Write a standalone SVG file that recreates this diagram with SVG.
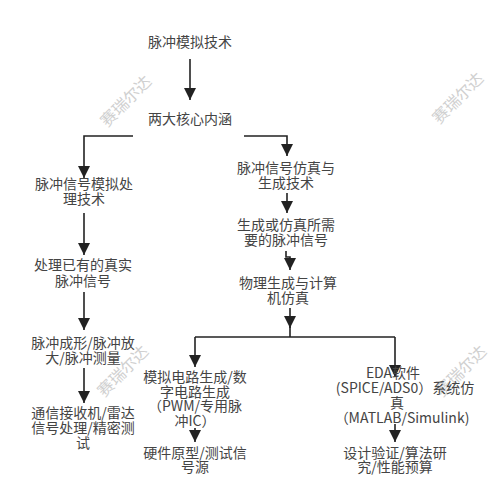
<svg xmlns="http://www.w3.org/2000/svg" width="500" height="500" viewBox="0 0 500 500">
<defs>
<marker id="ah" markerUnits="userSpaceOnUse" markerWidth="12" markerHeight="12" viewBox="0 0 12 12" refX="12" refY="6" orient="auto">
<path d="M0,0 L12,6 L0,12 Z" fill="#222"/>
</marker>
<style>
text{font-family:"Noto Sans CJK SC","Noto Sans",sans-serif;font-size:14px;fill:#444;text-anchor:middle}
.c{fill:none;stroke:#222;stroke-width:1.6}
.wm{font-size:16px;fill:#d0d0d0;text-anchor:middle}
</style>
</defs>
<rect width="500" height="500" fill="#fff"/>
<g id="watermarks">
<text class="wm" transform="translate(130,105) rotate(-45)">赛瑞尔达</text>
<text class="wm" transform="translate(462,102) rotate(-45)">赛瑞尔达</text>
<text class="wm" transform="translate(127,375) rotate(-45)">赛瑞尔达</text>
<text class="wm" transform="translate(465,375) rotate(-45)">赛瑞尔达</text>
</g>
<g id="connectors">
<path class="c" d="M190,59 V100" marker-end="url(#ah)"/>
<path class="c" d="M133,136 H84 V178" marker-end="url(#ah)"/>
<path class="c" d="M244,136 H287 V156" marker-end="url(#ah)"/>
<path class="c" d="M287,193 V213" marker-end="url(#ah)"/>
<path class="c" d="M286,251 V257 H290 V270" marker-end="url(#ah)"/>
<path class="c" d="M290,308 V328" marker-end="url(#ah)"/>
<path class="c" d="M290,326 V337"/>
<path class="c" d="M195,337 H395"/>
<path class="c" d="M195,337 V367" marker-end="url(#ah)"/>
<path class="c" d="M395,337 V377" marker-end="url(#ah)"/>
<path class="c" d="M84,213 V255" marker-end="url(#ah)"/>
<path class="c" d="M84,292 V330" marker-end="url(#ah)"/>
<path class="c" d="M84,368 V403" marker-end="url(#ah)"/>
<path class="c" d="M195,428 V442" marker-end="url(#ah)"/>
<path class="c" d="M395,424 V442" marker-end="url(#ah)"/>
</g>
<g id="n1"><text x="190" y="47">脉冲模拟技术</text></g>
<g id="n2"><text x="190" y="124">两大核心内涵</text></g>
<g id="n3"><text x="286" y="173">脉冲信号仿真与</text><text x="286" y="188">生成技术</text></g>
<g id="n4"><text x="286" y="230">生成或仿真所需</text><text x="286" y="245">要的脉冲信号</text></g>
<g id="n5"><text x="288" y="288">物理生成与计算</text><text x="288" y="303">机仿真</text></g>
<g id="n6"><text x="84" y="189">脉冲信号模拟处</text><text x="84" y="204">理技术</text></g>
<g id="n7"><text x="83" y="270">处理已有的真实</text><text x="83" y="286">脉冲信号</text></g>
<g id="n8"><text x="83" y="348">脉冲成形/脉冲放</text><text x="83" y="363">大/脉冲测量</text></g>
<g id="n9"><text x="83" y="418">通信接收机/雷达</text><text x="83" y="433">信号处理/精密测</text><text x="83" y="448">试</text></g>
<g id="n10"><text x="195" y="382">模拟电路生成/数</text><text x="195" y="397">字电路生成</text><text x="195" y="411">（PWM/专用脉</text><text x="195" y="426">冲IC）</text></g>
<g id="n11"><text x="195" y="458">硬件原型/测试信</text><text x="195" y="472">号源</text></g>
<g id="n12"><text x="393" y="378">EDA软件</text><text x="405" y="393">(SPICE/ADS0）系统仿</text><text x="397" y="408">真</text><text x="402" y="423">（MATLAB/Simulink)</text></g>
<g id="n13"><text x="395" y="458">设计验证/算法研</text><text x="395" y="472">究/性能预算</text></g>
</svg>
